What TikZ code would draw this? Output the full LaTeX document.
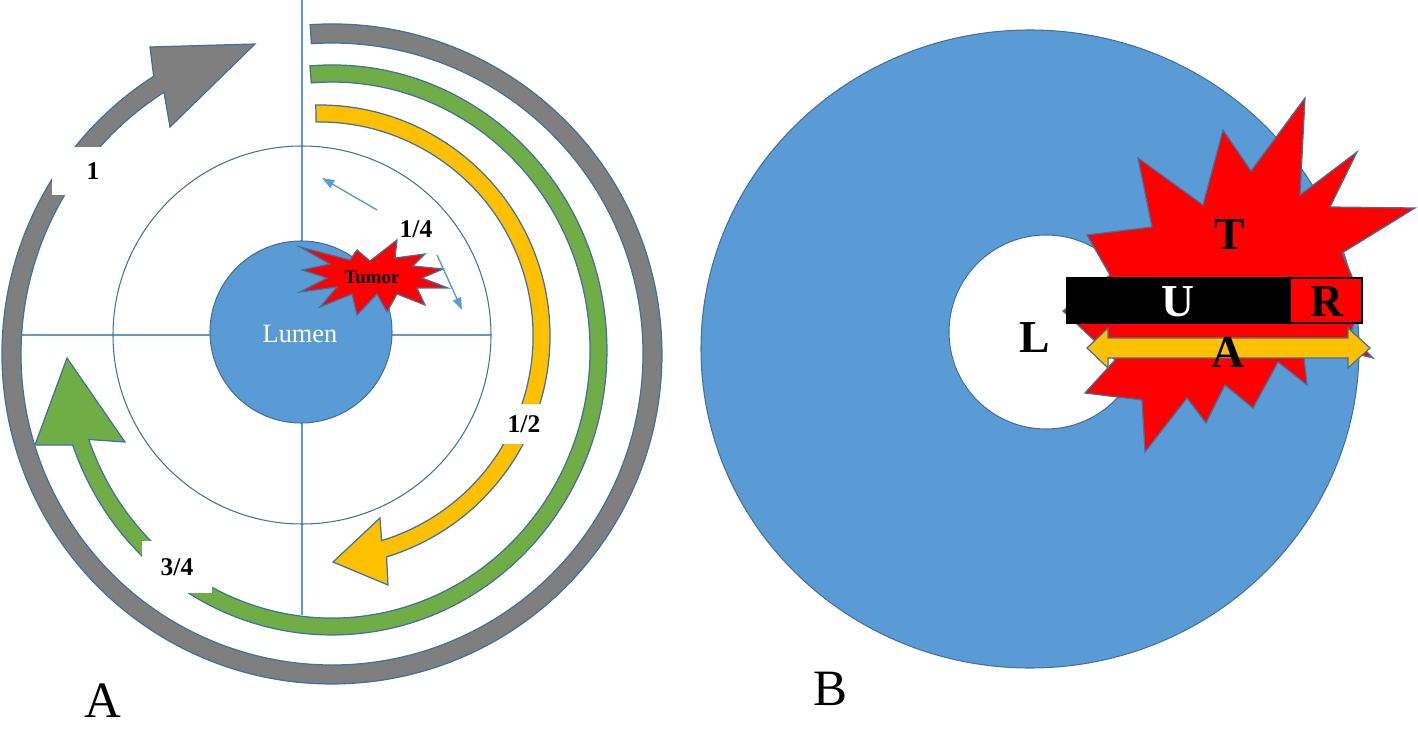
\documentclass[tikz,border=0pt]{standalone}
\usepackage{fontspec}
\setmainfont{Liberation Serif}
\usetikzlibrary{arrows.meta}
\definecolor{lblue}{RGB}{91,155,213}
\definecolor{outl}{RGB}{65,113,156}
\definecolor{gold}{RGB}{255,192,0}
\definecolor{lgreen}{RGB}{112,173,71}
\definecolor{mgray}{RGB}{127,127,127}

\begin{document}
\begin{tikzpicture}[x=0.02cm,y=0.02cm,>={Triangle[length=7pt,width=5pt]},
		band/.style={draw=outl,line width=0.7pt},
		axis/.style={draw=lblue,line width=0.8pt},
		ring/.style={draw=outl,line width=0.6pt},
		frac/.style={font=\bfseries\fontsize{14.5}{17}\selectfont,inner sep=0pt},
		fracbox/.style={fill=white,inner sep=0pt},
		big/.style={font=\bfseries\fontsize{26}{30}\selectfont,inner sep=0pt},
		panel/.style={font=\fontsize{29}{32}\selectfont,anchor=base,inner sep=0pt}]
	\useasboundingbox (0,0) rectangle (1418,731);

	% panel A: vessel with quarter lines
	\coordinate (cA) at (302,396);
	\draw[axis] (20,396) -- (491,396);
	\draw[axis] (302,731) -- (302,116);
	\draw[ring] (cA) circle[radius=189];
	\filldraw[ring,fill=lblue] (301,399) circle[radius=91];
	\node[text=white,font=\fontsize{15}{18}\selectfont,inner sep=0pt] (lumen) at (300,397) {Lumen};

	% block arcs
	\filldraw[band,fill=mgray] (310.1,706.3) arc[start angle=93.8,end angle=-237.3,radius=330]
		-- (150,684) -- (255,687) -- (170,604) -- (164.0,638.7)
		arc[start angle=-237.3,end angle=93.8,radius=311] -- cycle;
	\filldraw[band,fill=lgreen] (309.9,665.1) arc[start angle=94.6,end angle=-160.5,x radius=275,y radius=285]
		-- (35,286) -- (67,373) -- (125,289) -- (88.8,291.5)
		arc[start angle=-160.5,end angle=94.6,x radius=258,y radius=268] -- cycle;
	\filldraw[band,fill=gold] (315.8,626.0) arc[start angle=90.8,end angle=-73,radius=231]
		-- (388,146) -- (333,169) -- (380,213) -- (381.6,190.4)
		arc[start angle=-73,end angle=90.8,radius=214] -- cycle;

	\node[fracbox,frac,minimum width=1.66cm,minimum height=0.96cm] (one)      at (93,560)  {1};
	\node[fracbox,frac,minimum width=1.42cm,minimum height=1.06cm] (threeq)   at (177,164) {3/4};
	\node[fracbox,frac,minimum width=0.88cm,minimum height=0.8cm]  (half)     at (524,307) {1/2};
	\node[frac]                                                    (quarter)  at (416,502) {1/4};

	% tumor in the wall
	\filldraw[band,fill=red] (300,484) -- (350,471) -- (357,481) -- (370,470) -- (397,491)
		-- (395,473) -- (425,477) -- (413,465) -- (443,462) -- (422,453) -- (448,443)
		-- (417,443) -- (425,426) -- (397,437) -- (387,419) -- (377,437) -- (357,416)
		-- (352,437) -- (320,424) -- (337,444) -- (300,439) -- (327,453) -- (302,461)
		-- (330,467) -- cycle;
	\node[font=\bfseries\fontsize{10.8}{13}\selectfont,inner sep=0pt] (tumor) at (372,454) {Tumor};

	\coordinate (upS) at (377,521);
	\coordinate (upE) at (322,553);
	\coordinate (dnS) at (437,476);
	\coordinate (dnE) at (462,421);
	\draw[->,axis] (upS) -- (upE);
	\draw[->,axis] (dnS) -- (dnE);

	% panel B: cross section
	\filldraw[ring,fill=lblue] (1030,382) ellipse[x radius=329,y radius=319];
	\filldraw[ring,fill=white] (1046,399) circle[radius=97];
	\filldraw[band,fill=red] (1087,496) -- (1152,504) -- (1138,573) -- (1203,526) -- (1223,601)
		-- (1251,560) -- (1305,633) -- (1300,536) -- (1357,579) -- (1330,524) -- (1415,523)
		-- (1342,478) -- (1362,431) -- (1350,396) -- (1373,373) -- (1302,391) -- (1307,346)
		-- (1278,369) -- (1253,323) -- (1225,346) -- (1206,308) -- (1187,333) -- (1145,279)
		-- (1142,331) -- (1085,338) -- (1115,371) -- (1063,420) -- (1110,456) -- cycle;
	\filldraw[draw=black,fill=black,line width=0.6pt] (1067,408) rectangle (1362,453);
	\filldraw[draw=black,fill=red,line width=0.6pt] (1290,408) rectangle (1362,453);
	\filldraw[band,fill=gold] (1087,383) -- (1108,403) -- (1108,393) -- (1348,393) -- (1348,403)
		-- (1370,383) -- (1348,363) -- (1348,373) -- (1108,373) -- (1108,363) -- cycle;

	\node[big]            (tLbl) at (1230,496) {T};
	\node[big,text=white] (uLbl) at (1178,429) {U};
	\node[big]            (rLbl) at (1327,429) {R};
	\node[big]            (aLbl) at (1228,379) {A};
	\node[big]            (lLbl) at (1035,393) {L};

	\node[panel] (labA) at (103,13) {A};
	\node[panel] (labB) at (830,26) {B};
\end{tikzpicture}
\end{document}
